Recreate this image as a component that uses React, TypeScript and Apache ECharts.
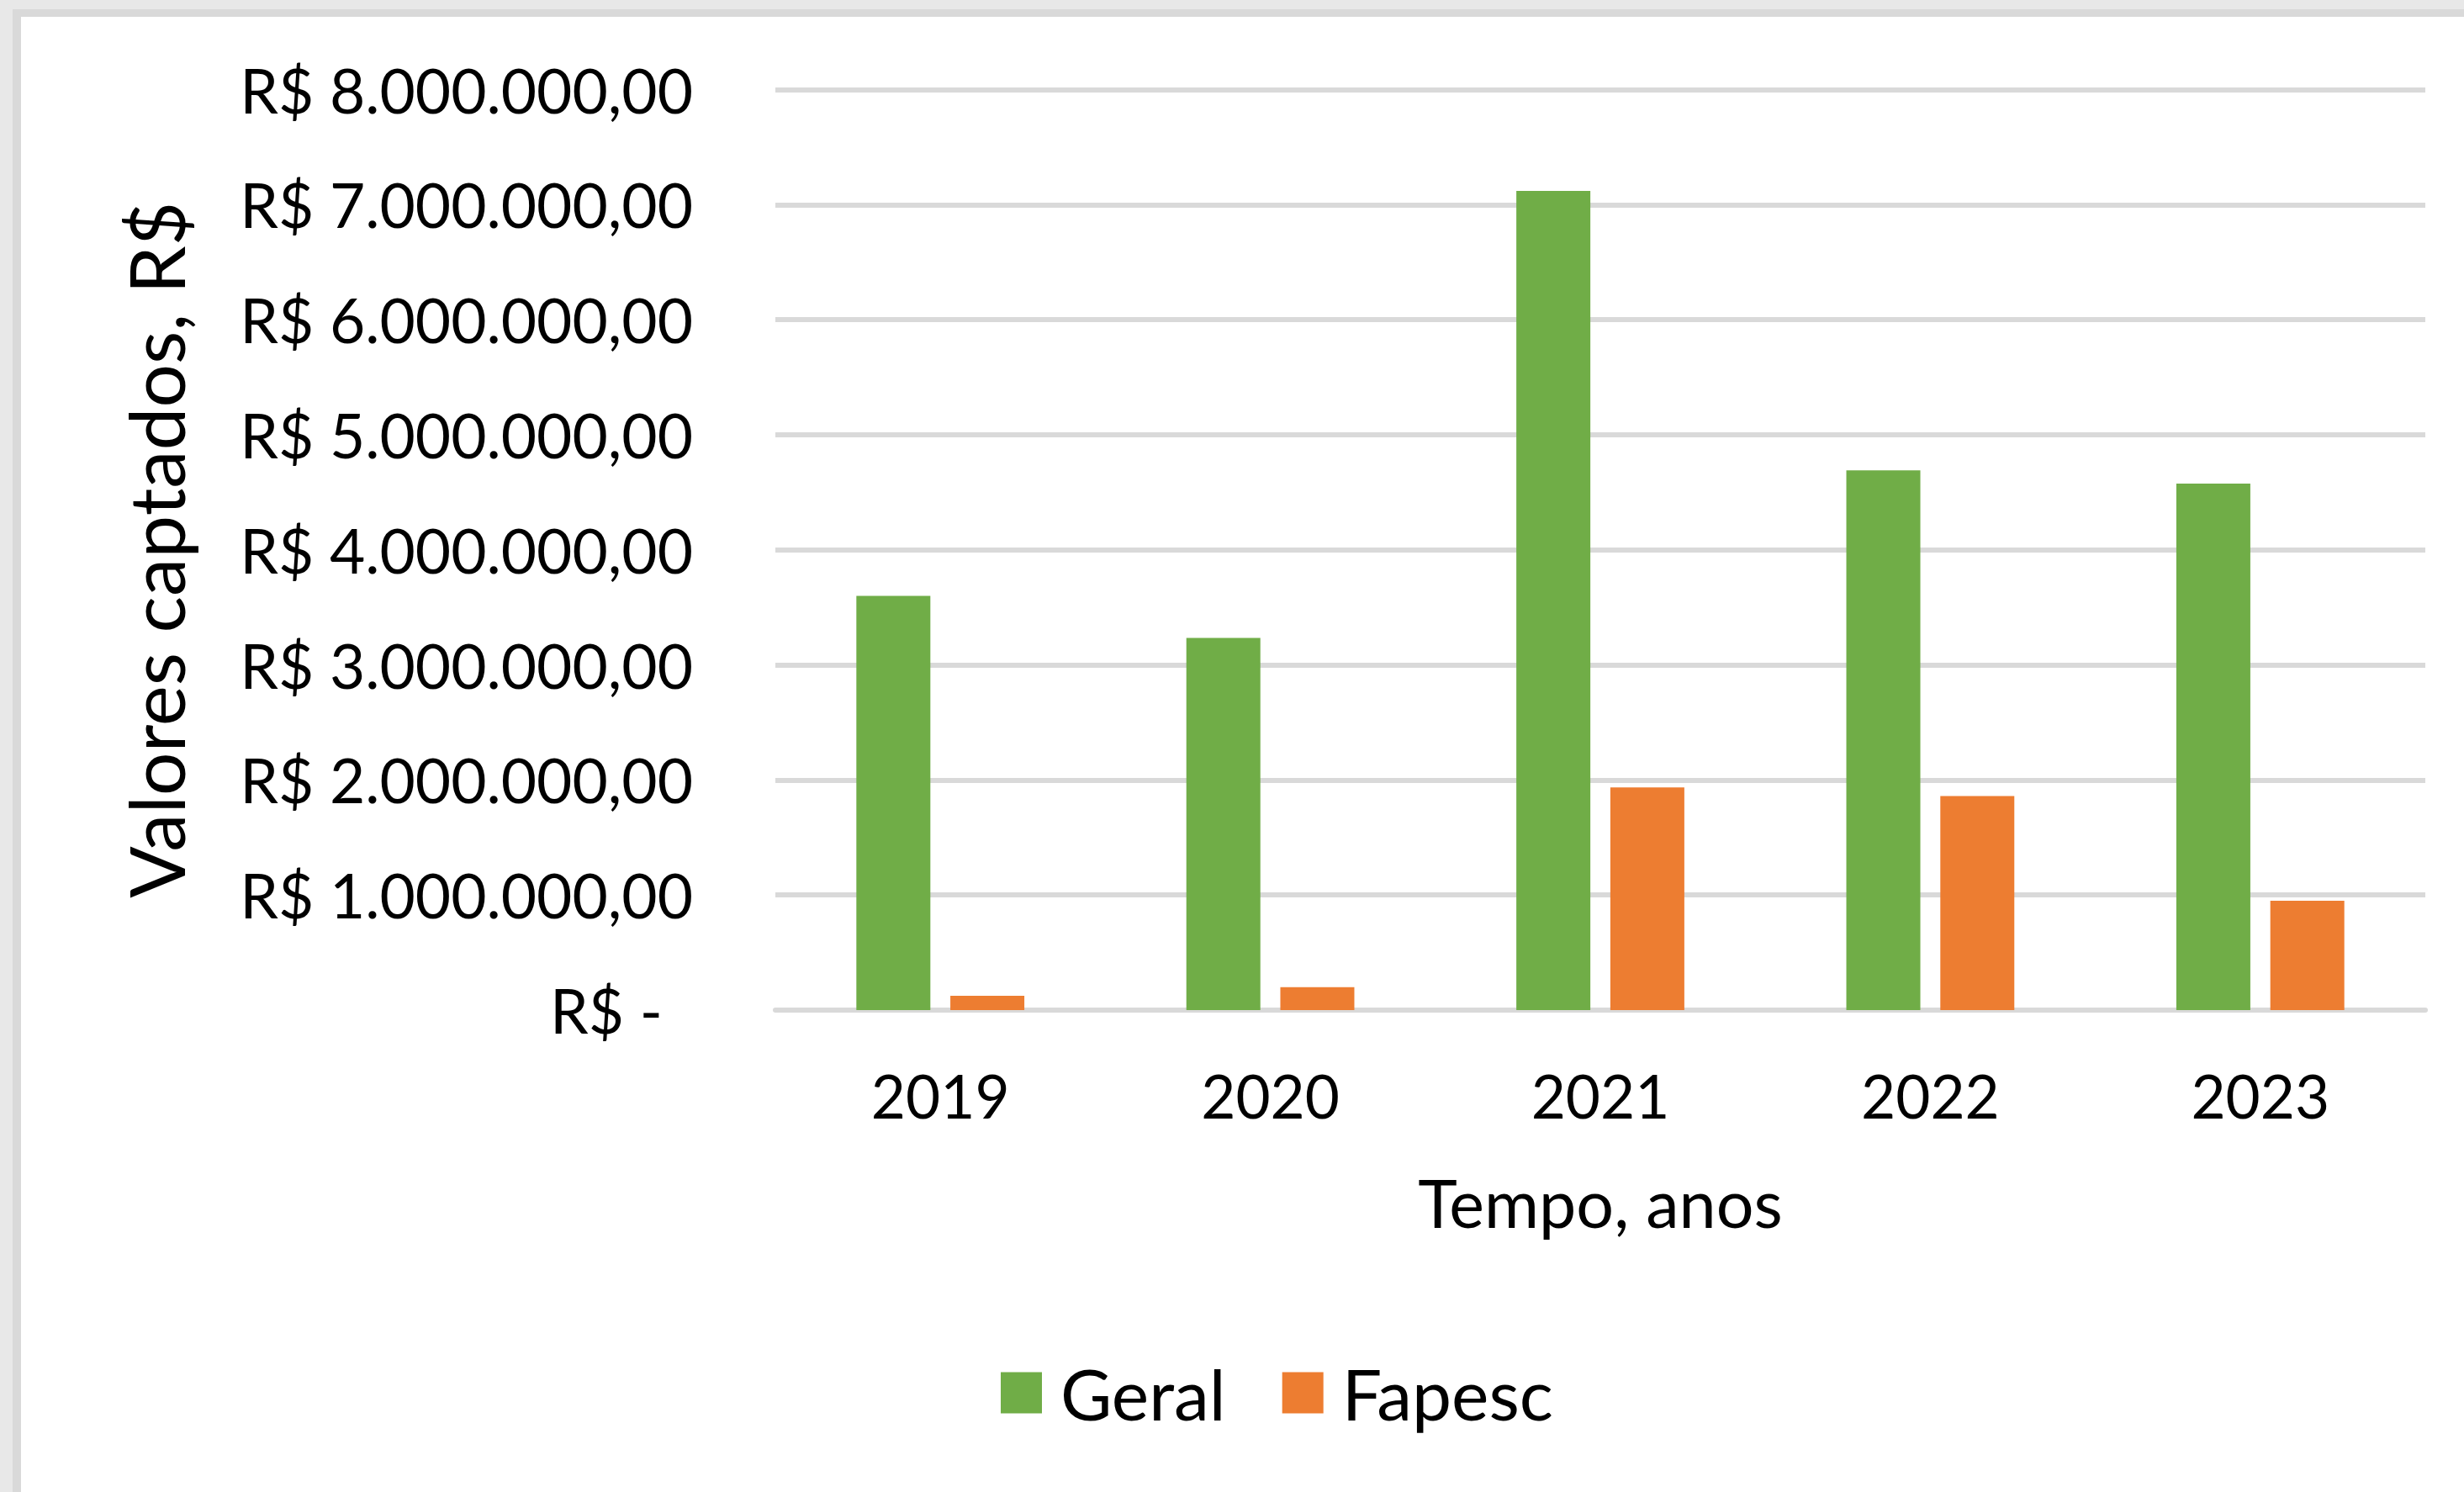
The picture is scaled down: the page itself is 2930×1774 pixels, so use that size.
import React, { useEffect, useRef } from "react";
import * as echarts from "echarts";

const categories = ["2019", "2020", "2021", "2022", "2023"];
const seriesNames = ["Geral", "Fapesc"];
const geral = [3600000, 3235000, 7120000, 4690000, 4575000];
const fapesc = [125000, 200000, 1935000, 1860000, 950000];
const yTitle = "Valores captados, R$";
const xTitle = "Tempo, anos";

const GREEN = "#70AD47";
const ORANGE = "#ED7D31";
const FONT = "Lato";

function fmt(v: number): string {
  const intPart = Math.floor(v).toString().replace(/\B(?=(\d{3})+(?!\d))/g, ".");
  return "R$ " + intPart + ",00";
}

export default function App() {
  const ref = useRef<HTMLDivElement>(null);
  useEffect(() => {
    if (!ref.current) return;
    const chart = echarts.init(ref.current, null, { renderer: "svg" });
    chart.setOption({
      animation: false,
      backgroundColor: "transparent",
      textStyle: { fontFamily: FONT, color: "#000" },
      grid: { left: 922, right: 46, top: 106.5, bottom: 573, containLabel: false },
      legend: {
        data: seriesNames,
        left: 1185,
        top: 1609,
        icon: "rect",
        itemWidth: 49,
        itemHeight: 49,
        itemGap: 67,
        textStyle: { fontSize: 84, fontFamily: FONT, color: "#000", lineHeight: 49, padding: [0, 0, 0, 17] },
      },
      xAxis: {
        type: "category",
        data: categories,
        axisLine: { show: true, lineStyle: { color: "#d9d9d9", width: 6 } },
        axisTick: { show: false },
        axisLabel: { fontSize: 71, fontFamily: FONT, color: "#000", margin: 66 },
        name: xTitle,
        nameLocation: "middle",
        nameGap: 228,
        nameTextStyle: { fontSize: 79, fontFamily: FONT, color: "#000", verticalAlign: "middle" },
      },
      yAxis: {
        type: "value",
        min: 0,
        max: 8000000,
        interval: 1000000,
        axisLine: { show: false },
        axisTick: { show: false },
        splitLine: { lineStyle: { color: "#d9d9d9", width: 6 } },
        axisLabel: {
          fontSize: 73,
          fontFamily: FONT,
          color: "#000",
          margin: 98,
          formatter: (v: number) => (v === 0 ? "{z|R$ -}" : fmt(v)),
          rich: { z: { fontSize: 73, fontFamily: FONT, color: "#000", padding: [0, 36, 0, 0] } },
        },
        name: yTitle,
        nameLocation: "middle",
        nameGap: 738,
        nameTextStyle: { fontSize: 91, fontFamily: FONT, color: "#000", verticalAlign: "middle" },
      },
      series: [
        {
          name: seriesNames[0],
          type: "bar",
          data: geral,
          barWidth: 88,
          barGap: "27%",
          itemStyle: { color: GREEN },
        },
        {
          name: seriesNames[1],
          type: "bar",
          data: fapesc,
          barWidth: 88,
          barGap: "27%",
          itemStyle: { color: ORANGE },
        },
      ],
    });
    return () => chart.dispose();
  }, []);

  return (
    <div style={{ position: "fixed", left: 0, top: 0, width: 2930, height: 1774, background: "#e8e8e8", overflow: "hidden" }}>
      <div style={{ position: "absolute", left: 15, top: 11, right: 0, bottom: 0, background: "#d9d9d9" }} />
      <div style={{ position: "absolute", left: 25, top: 20, right: 0, bottom: 0, background: "#ffffff" }} />
      <div ref={ref} style={{ position: "absolute", left: 0, top: 0, width: 2930, height: 1774 }} />
    </div>
  );
}
